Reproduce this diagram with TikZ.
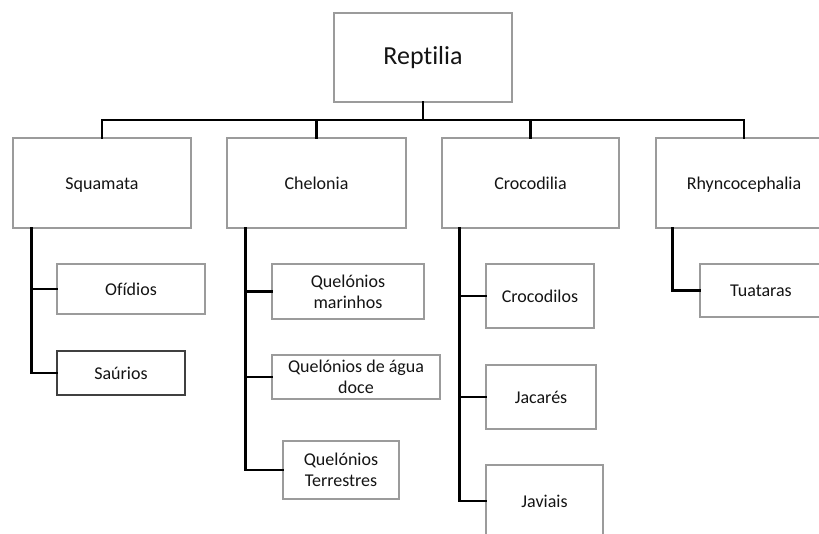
\documentclass[tikz,border=0pt]{standalone}
\usepackage{fontspec}
\setmainfont{Carlito}[Ligatures=NoCommon]
\definecolor{boxline}{RGB}{155,155,155}
\definecolor{txt}{RGB}{20,20,20}
\tikzset{
  box/.style={draw=boxline, line width=1.4pt, rectangle, inner sep=0pt, fill=white,
    align=center, text=txt, font=\fontsize{18}{21}\selectfont},
  one/.style={text height=14.5pt, text depth=2pt},
  big/.style={font=\fontsize{26}{30}\selectfont, text height=21pt, text depth=6pt},
  conn/.style={draw=black, line width=2.6pt, line cap=rect}
}
\begin{document}
\begin{tikzpicture}[x=1pt,y=-1pt]
\useasboundingbox (0,0) rectangle (819,534);
\clip (0,0) rectangle (819,534);
\fill[white] (0,0) rectangle (819,534);
\coordinate (bar) at (0,120);
% nodes
\node[box,big,minimum width=178pt,minimum height=89pt] (rep) at (423,57.5) {Reptilia};
\node[box,one,minimum width=178pt,minimum height=90pt] (squ) at (102,183) {Squamata};
\node[box,one,minimum width=179pt,minimum height=90pt] (che) at (316.5,183) {Chelonia};
\node[box,one,minimum width=177pt,minimum height=90pt] (cro) at (530.5,183) {Crocodilia};
\node[box,one,minimum width=176pt,minimum height=90pt] (rhy) at (744,183) {Rhyncocephalia};
\node[box,one,minimum width=148pt,minimum height=50pt] (ofi) at (131,289) {Ofídios};
\node[box,one,minimum width=128pt,minimum height=44pt,draw=black!75] (sau) at (121,373) {Saúrios};
\node[box,minimum width=152pt,minimum height=55pt] (qm) at (348,291.5) {Quelónios\\marinhos};
\node[box,minimum width=168pt,minimum height=44pt] (qad) at (356,377) {Quelónios de água\\doce};
\node[box,minimum width=116pt,minimum height=58pt] (qt) at (341,470) {Quelónios\\Terrestres};
\node[box,one,minimum width=108pt,minimum height=64pt] (crs) at (540,296) {Crocodilos};
\node[box,one,minimum width=110pt,minimum height=64pt] (jac) at (541,397) {Jacarés};
\node[box,one,minimum width=117pt,minimum height=72pt] (jav) at (544.5,501) {Javiais};
\node[box,one,minimum width=122pt,minimum height=53pt] (tua) at (761,290.5) {Tuataras};
% top level connectors
\draw[conn] (rep.south) -- (rep.south |- bar);
\draw[conn] (squ.north) |- (rep.south |- bar) -| (rhy.north);
\draw[conn] (che.north) -- (che.north |- bar);
\draw[conn] (cro.north) -- (cro.north |- bar);
% Squamata
\coordinate (sq) at ([xshift=19pt]squ.south west);
\draw[conn] (sq) |- (sau.west);
\draw[conn] (ofi.west) -- (ofi.west -| sq);
% Chelonia
\coordinate (ch) at ([xshift=19pt]che.south west);
\draw[conn] (ch) |- (qt.west);
\draw[conn] (qm.west) -- (qm.west -| ch);
\draw[conn] (qad.west) -- (qad.west -| ch);
% Crocodilia
\coordinate (cr) at ([xshift=18pt]cro.south west);
\draw[conn] (cr) |- (jav.west);
\draw[conn] (crs.west) -- (crs.west -| cr);
\draw[conn] (jac.west) -- (jac.west -| cr);
% Rhyncocephalia
\coordinate (rh) at ([xshift=17pt]rhy.south west);
\draw[conn] (rh) |- (tua.west);
\end{tikzpicture}
\end{document}
